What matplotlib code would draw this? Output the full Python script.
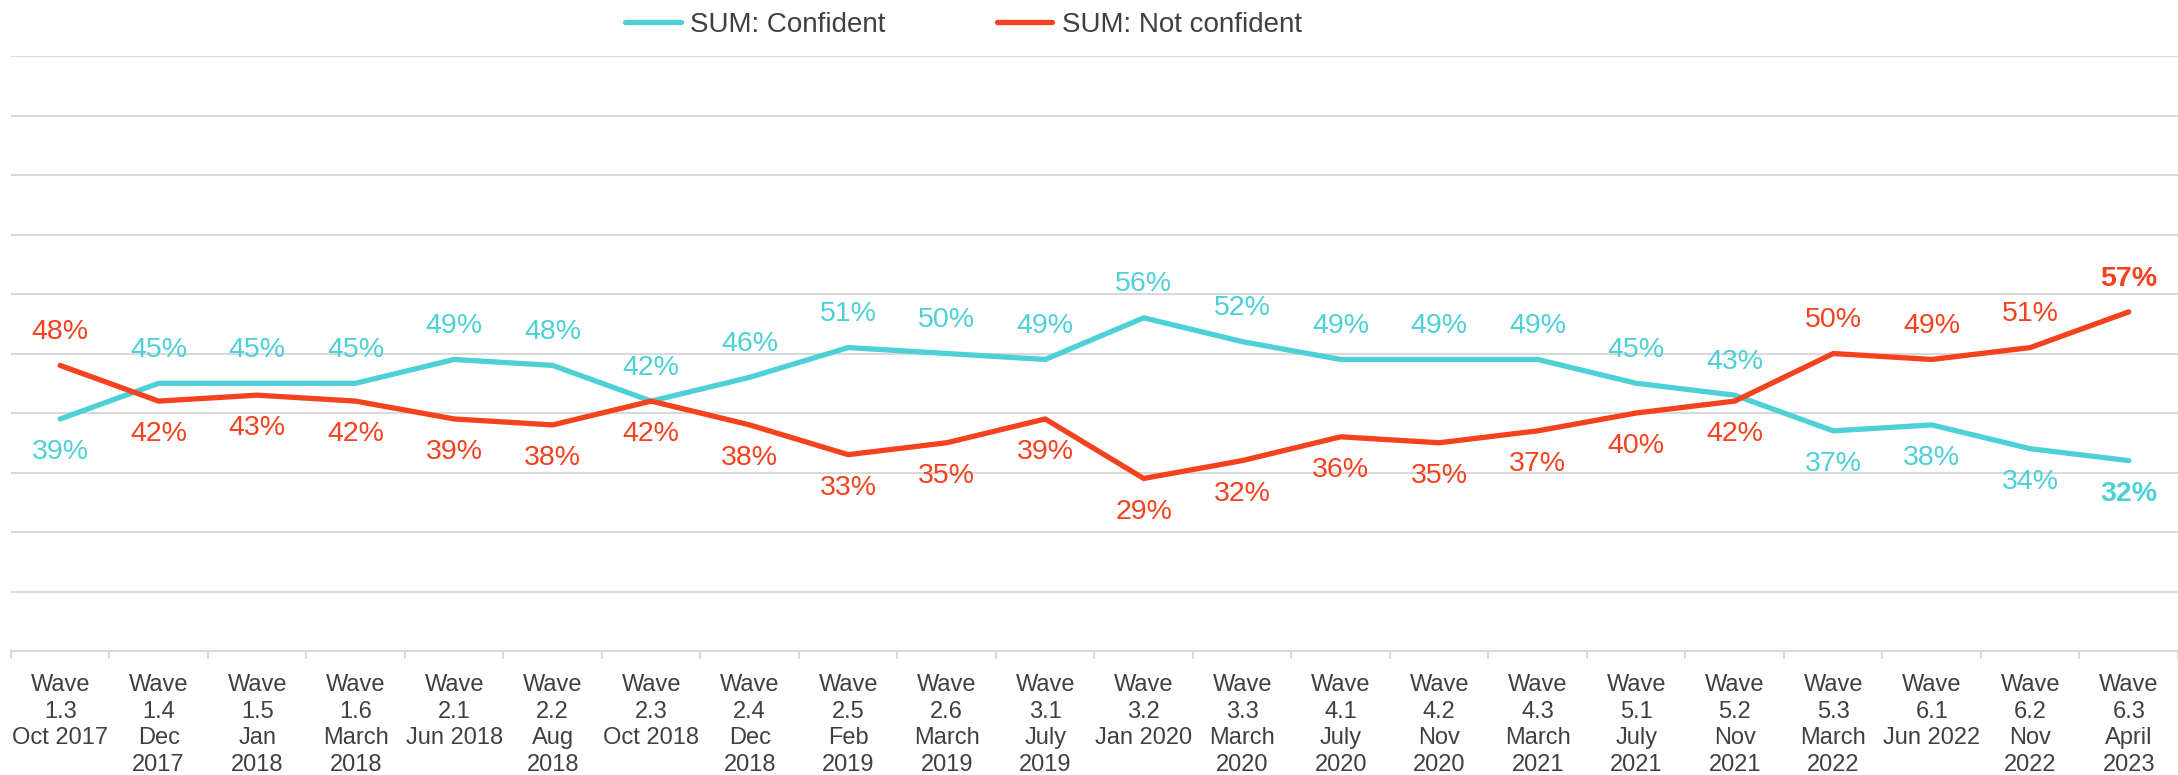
import matplotlib.pyplot as plt
from matplotlib.ticker import FixedLocator
import numpy as np

plt.rcParams['font.family'] = ['Liberation Sans', 'DejaVu Sans']

waves = ['Wave\n1.3\nOct 2017', 'Wave\n1.4\nDec\n2017', 'Wave\n1.5\nJan\n2018',
         'Wave\n1.6\nMarch\n2018', 'Wave\n2.1\nJun 2018', 'Wave\n2.2\nAug\n2018',
         'Wave\n2.3\nOct 2018', 'Wave\n2.4\nDec\n2018', 'Wave\n2.5\nFeb\n2019',
         'Wave\n2.6\nMarch\n2019', 'Wave\n3.1\nJuly\n2019', 'Wave\n3.2\nJan 2020',
         'Wave\n3.3\nMarch\n2020', 'Wave\n4.1\nJuly\n2020', 'Wave\n4.2\nNov\n2020',
         'Wave\n4.3\nMarch\n2021', 'Wave\n5.1\nJuly\n2021', 'Wave\n5.2\nNov\n2021',
         'Wave\n5.3\nMarch\n2022', 'Wave\n6.1\nJun 2022', 'Wave\n6.2\nNov\n2022',
         'Wave\n6.3\nApril\n2023']
confident = [39, 45, 45, 45, 49, 48, 42, 46, 51, 50, 49, 56, 52, 49, 49, 49, 45, 43, 37, 38, 34, 32]
not_confident = [48, 42, 43, 42, 39, 38, 42, 38, 33, 35, 39, 29, 32, 36, 35, 37, 40, 42, 50, 49, 51, 57]

cyan = '#4DD0D6'
red = '#F4421E'
grid_col = '#D9D9D9'
text_col = '#404040'

fig = plt.figure(figsize=(21.78, 7.75), dpi=100)
ax = fig.add_axes([0.005, 0.16, 0.995, 0.7677])

x = np.arange(len(waves))
ax.plot(x, confident, color=cyan, lw=3.8, label='SUM: Confident', solid_capstyle='round')
ax.plot(x, not_confident, color=red, lw=3.8, label='SUM: Not confident', solid_capstyle='round')

# data labels: higher series above, lower below
for i in x:
    c, n = confident[i], not_confident[i]
    last = i == len(x) - 1
    fw = 'bold' if last else 'normal'
    c_off = 24 if c >= n else -24
    n_off = 24 if n > c else -24
    ax.annotate(f'{c}%', (i, c), xytext=(0, c_off), textcoords='offset points',
                ha='center', va='center', color=cyan, fontsize=20.5, fontweight=fw)
    ax.annotate(f'{n}%', (i, n), xytext=(0, n_off), textcoords='offset points',
                ha='center', va='center', color=red, fontsize=20.5, fontweight=fw)

ax.set_xlim(-0.5, len(waves) - 0.5)
ax.set_ylim(0, 100)
ax.set_yticks(np.arange(0, 101, 10))
ax.yaxis.grid(True, color=grid_col, lw=1.5)
ax.set_axisbelow(True)
ax.tick_params(axis='y', left=False, labelleft=False)

ax.set_xticks(x)
ax.set_xticklabels(waves, fontsize=17, color=text_col, linespacing=1.27, va='top')
ax.xaxis.set_minor_locator(FixedLocator(np.arange(-0.5, len(waves), 1)))
ax.tick_params(axis='x', which='major', length=0, pad=16.5)
ax.tick_params(axis='x', which='minor', length=6, width=1.5, color=grid_col)

for s in ['top', 'right', 'left']:
    ax.spines[s].set_visible(False)
ax.spines['bottom'].set_color(grid_col)
ax.spines['bottom'].set_linewidth(1.5)

fig.legend(loc='center left', bbox_to_anchor=(625 / 2178, 1 - 25 / 775), ncol=2,
           frameon=False, fontsize=20, handlelength=2.0, handletextpad=0.35,
           columnspacing=4.0, borderpad=0, borderaxespad=0, labelcolor=text_col)

fig.savefig('out.png', dpi=100)
